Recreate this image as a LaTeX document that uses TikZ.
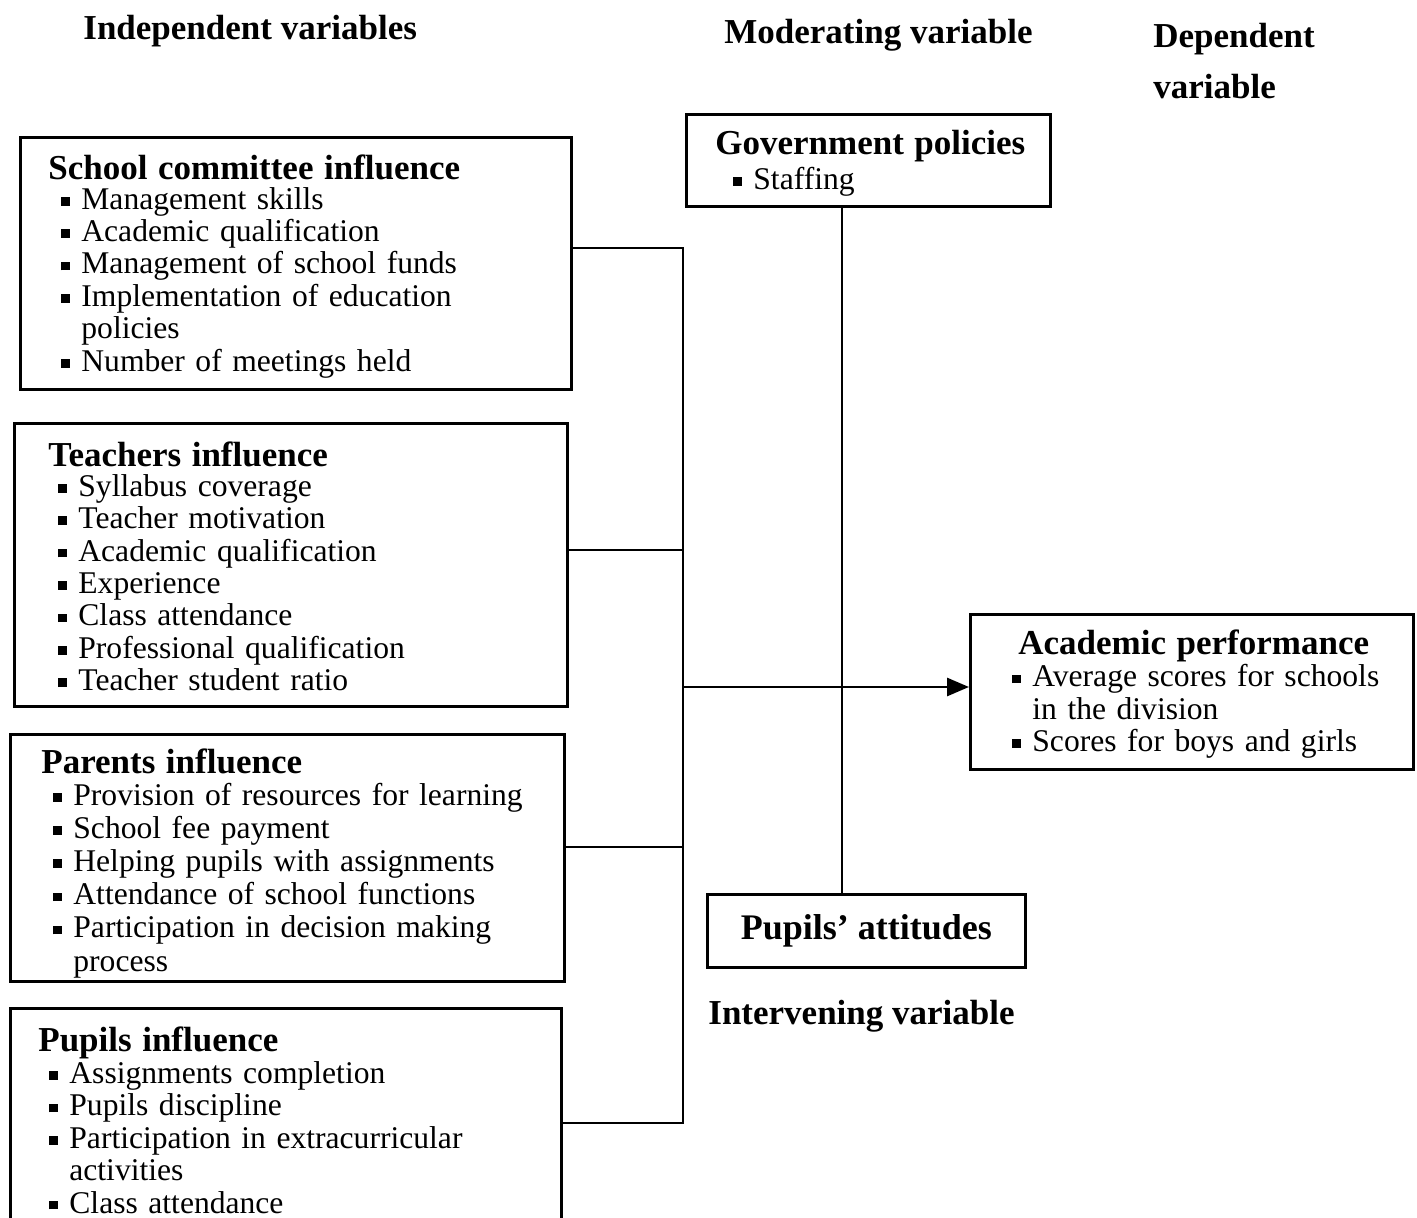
\documentclass[tikz,border=0pt]{standalone}
\usepackage{fontspec}
\setmainfont{Liberation Serif}
\usetikzlibrary{arrows.meta}
\newcommand{\sqb}{\rule[1.8pt]{4.3pt}{4.3pt}}
\newcommand{\hd}[2][0pt]{\rule{0pt}{#1}{\fontsize{17.5}{16.2}\selectfont\bfseries\mbox{#2}}}
\newcommand{\itm}[2][6.5pt]{\hspace*{#1}\makebox[10pt][l]{\sqb}\mbox{#2}}
\newcommand{\cnt}[2][6.5pt]{\hspace*{#1}\hspace*{10pt}\mbox{#2}}

\begin{document}
\begin{tikzpicture}[x=0.5pt,y=-0.5pt,
    box/.style={draw,line width=1.4pt,anchor=north west,align=left,inner ysep=0pt,
      font=\fontsize{15.8}{16.2}\selectfont},
    lbl/.style={font=\fontsize{17.5}{25.5}\selectfont\bfseries,inner sep=0pt},
    link/.style={line width=1.4pt}]
  \useasboundingbox (0,0) rectangle (1417,1218);
  \clip (0,0) rectangle (1417,1218);

  \node[lbl,anchor=base west] (indep) at (83,40) {Independent variables};
  \node[lbl,anchor=base west] (moder) at (724,44) {Moderating variable};
  \node[lbl,anchor=north west,align=left] (dep) at (1153,23) {Dependent\\variable};
  \node[lbl,anchor=base west] (interv) at (708,1024) {Intervening variable};

  \node[box,inner xsep=14pt,text width=247.5pt,minimum height=126pt] (sc) at (19,136)
    {\hd[15.5pt]{School committee influence}\\[-1.5pt]
     \itm{Management skills}\\
     \itm{Academic qualification}\\
     \itm{Management of school funds}\\
     \itm{Implementation of education}\\
     \cnt{policies}\\
     \itm{Number of meetings held}};
  \node[box,inner xsep=17pt,text width=242.5pt,minimum height=141.5pt] (ti) at (13,422)
    {\hd[14pt]{Teachers influence}\\[-1.5pt]
     \itm[5pt]{Syllabus coverage}\\
     \itm[5pt]{Teacher motivation}\\
     \itm[5pt]{Academic qualification}\\
     \itm[5pt]{Experience}\\
     \itm[5pt]{Class attendance}\\
     \itm[5pt]{Professional qualification}\\
     \itm[5pt]{Teacher student ratio}};
  \node[box,inner xsep=15.5pt,text width=246pt,minimum height=123.5pt,
    font=\fontsize{15.8}{16.6}\selectfont] (pi) at (9,733)
    {\hd[18pt]{Parents influence}\\[-1pt]
     \itm[6pt]{Provision of resources for learning}\\
     \itm[6pt]{School fee payment}\\
     \itm[6pt]{Helping pupils with assignments}\\
     \itm[6pt]{Attendance of school functions}\\
     \itm[6pt]{Participation in decision making}\\
     \cnt[6pt]{process}};
  \node[box,inner xsep=14pt,text width=247.5pt,minimum height=111.5pt] (pu) at (9,1007)
    {\hd{Pupils influence}\\
     \itm[5.5pt]{Assignments completion}\\
     \itm[5.5pt]{Pupils discipline}\\
     \itm[5.5pt]{Participation in extracurricular}\\
     \cnt[5.5pt]{activities}\\
     \itm[5.5pt]{Class attendance}};

  \node[box,inner xsep=14.5pt,text width=153pt,minimum height=46pt] (gp) at (685,113)
    {\hd[15pt]{Government policies}\\[1pt]
     \itm[9pt]{Staffing}};
  \node[box,inner xsep=21pt,text width=179.5pt,minimum height=77.5pt] (ap) at (969,613)
    {\hspace*{3pt}\hd[14.5pt]{Academic performance}\\
     \itm[0pt]{Average scores for schools}\\
     \cnt[0pt]{in the division}\\
     \itm[0pt]{Scores for boys and girls}};
  \node[draw,line width=1.4pt,anchor=north west,minimum width=159pt,minimum height=36.5pt,
    font=\fontsize{18}{20}\selectfont\bfseries] (pa) at (706,893) {Pupils’ attitudes};

  \coordinate (j1) at (683,248);
  \coordinate (j2) at (683,550);
  \coordinate (j3) at (683,847);
  \coordinate (j4) at (683,1123);
  \coordinate (jm) at (683,687);
  \coordinate (mv) at (842,687);

  \draw[link] (sc.east |- j1) -- (j1) -- (j4) -- (pu.east |- j4);
  \draw[link] (ti.east |- j2) -- (j2);
  \draw[link] (pi.east |- j3) -- (j3);
  \draw[link,-{Triangle[length=11pt,width=9pt]}] (jm) -- (jm -| ap.west);
  \draw[link] (gp.south -| mv) -- (pa.north -| mv);
\end{tikzpicture}
\end{document}
